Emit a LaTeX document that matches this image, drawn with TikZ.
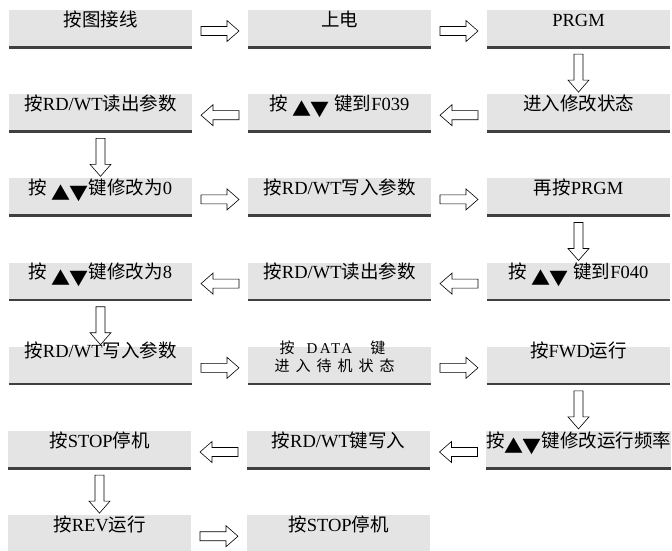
\documentclass[tikz,border=0pt]{standalone}
\usepackage{fontspec}
\setmainfont{Liberation Serif}
\newfontfamily\cjk{Noto Sans CJK SC}
\newfontfamily\cjkwide[LetterSpace=40]{Noto Sans CJK SC}
\newfontfamily\latwide[LetterSpace=15]{Liberation Serif}
\usetikzlibrary{calc,positioning}

\definecolor{boxgray}{RGB}{228,228,228}
\definecolor{rulegray}{RGB}{64,64,64}

\newcommand{\zh}[1]{{\cjk #1}}
\newcommand{\updown}{\raisebox{-6.5pt}{\cjk\fontsize{19}{19}\selectfont ▲\kern-1pt▼}}

\tikzset{
	stepbox/.style={fill=boxgray,minimum width=183pt,minimum height=38pt,inner sep=0pt,outer sep=0pt,
		text height=16pt,text depth=22pt,font=\fontsize{18.5}{22}\selectfont,
		path picture={\draw[rulegray,line width=4pt] (path picture bounding box.south west) -- (path picture bounding box.south east);}},
	highrow/.style={text height=11pt,text depth=27pt},
	flow/.style={draw=black,fill=white,line width=0.6pt,line join=miter,
		to path={($(\tikztostart)!.5!(\tikztotarget)$) ++(0,-2pt) ++(#1+180:19pt) ++(#1+90:4.5pt)
			-- ++(#1:26pt) -- ++(#1+90:6pt) -- ++(#1-41.2:15.95pt) -- ++(#1-138.8:15.95pt)
			-- ++(#1+90:6pt) -- ++(#1+180:26pt) -- cycle}}
}

\begin{document}
\begin{tikzpicture}

\useasboundingbox (0,0) rectangle (672pt,-550pt);

\node[stepbox,anchor=north west] (wiring) at (9pt,-10pt) {\zh{按图接线}};

\node[stepbox,right=56pt of wiring] (power_on) {\zh{上电}};

\node[stepbox,right=56pt of power_on] (prgm) {PRGM};


\node[stepbox,below=46.2pt of prgm] (edit_mode) {\zh{进入修改状态}};

\node[stepbox,left=56pt of edit_mode] (goto_f039) {\zh{按} \updown\ \zh{键到}F039};

\node[stepbox,left=56pt of goto_f039] (read_par) {\zh{按}RD/WT\zh{读出参数}};


\node[stepbox,below=46.2pt of read_par] (set_zero) {\zh{按} \updown\zh{键修改为}0};

\node[stepbox,right=56pt of set_zero] (write_par) {\zh{按}RD/WT\zh{写入参数}};

\node[stepbox,right=56pt of write_par] (prgm_again) {\zh{再按}PRGM};


\node[stepbox,below=46.2pt of prgm_again] (goto_f040) {\zh{按} \updown\ \zh{键到}F040};

\node[stepbox,left=56pt of goto_f040] (read_par2) {\zh{按}RD/WT\zh{读出参数}};

\node[stepbox,left=56pt of read_par2] (set_eight) {\zh{按} \updown\zh{键修改为}8};


\node[stepbox,highrow,below=46.2pt of set_eight] (write_par2) {\zh{按}RD/WT\zh{写入参数}};

\node[stepbox,right=56pt of write_par2,text height=25pt,text depth=13pt,align=center,
	font=\fontsize{15}{18}\selectfont] (standby)
	{\zh{按}\hspace{12pt}{\latwide DATA}\hspace{18pt}\zh{键}\hspace*{14pt}\\{\cjkwide 进入待机状态}\hspace*{10pt}};

\node[stepbox,highrow,right=56pt of standby] (run_fwd) {\zh{按}FWD\zh{运行}};


\node[stepbox,below=46.2pt of run_fwd] (set_freq) {\zh{按}\updown\zh{键修改运行频率}};

\node[stepbox,left=56pt of set_freq] (write_key) {\zh{按}RD/WT\zh{键写入}};

\node[stepbox,left=56pt of write_key] (stop_key) {\zh{按}STOP\zh{停机}};


\node[stepbox,below=46.2pt of stop_key] (run_rev) {\zh{按}REV\zh{运行}};

\node[stepbox,right=56pt of run_rev] (stop_again) {\zh{按}STOP\zh{停机}};


\draw[flow=0] (wiring) to (power_on);
\draw[flow=0] (power_on) to (prgm);
\draw[flow=-90] (prgm) to (edit_mode);
\draw[flow=180] (edit_mode) to (goto_f039);
\draw[flow=180] (goto_f039) to (read_par);
\draw[flow=-90] (read_par) to (set_zero);
\draw[flow=0] (set_zero) to (write_par);
\draw[flow=0] (write_par) to (prgm_again);
\draw[flow=-90] (prgm_again) to (goto_f040);
\draw[flow=180] (goto_f040) to (read_par2);
\draw[flow=180] (read_par2) to (set_eight);
\draw[flow=-90] (set_eight) to (write_par2);
\draw[flow=0] (write_par2) to (standby);
\draw[flow=0] (standby) to (run_fwd);
\draw[flow=-90] (run_fwd) to (set_freq);
\draw[flow=180] (set_freq) to (write_key);
\draw[flow=180] (write_key) to (stop_key);
\draw[flow=-90] (stop_key) to (run_rev);
\draw[flow=0] (run_rev) to (stop_again);

\end{tikzpicture}
\end{document}
